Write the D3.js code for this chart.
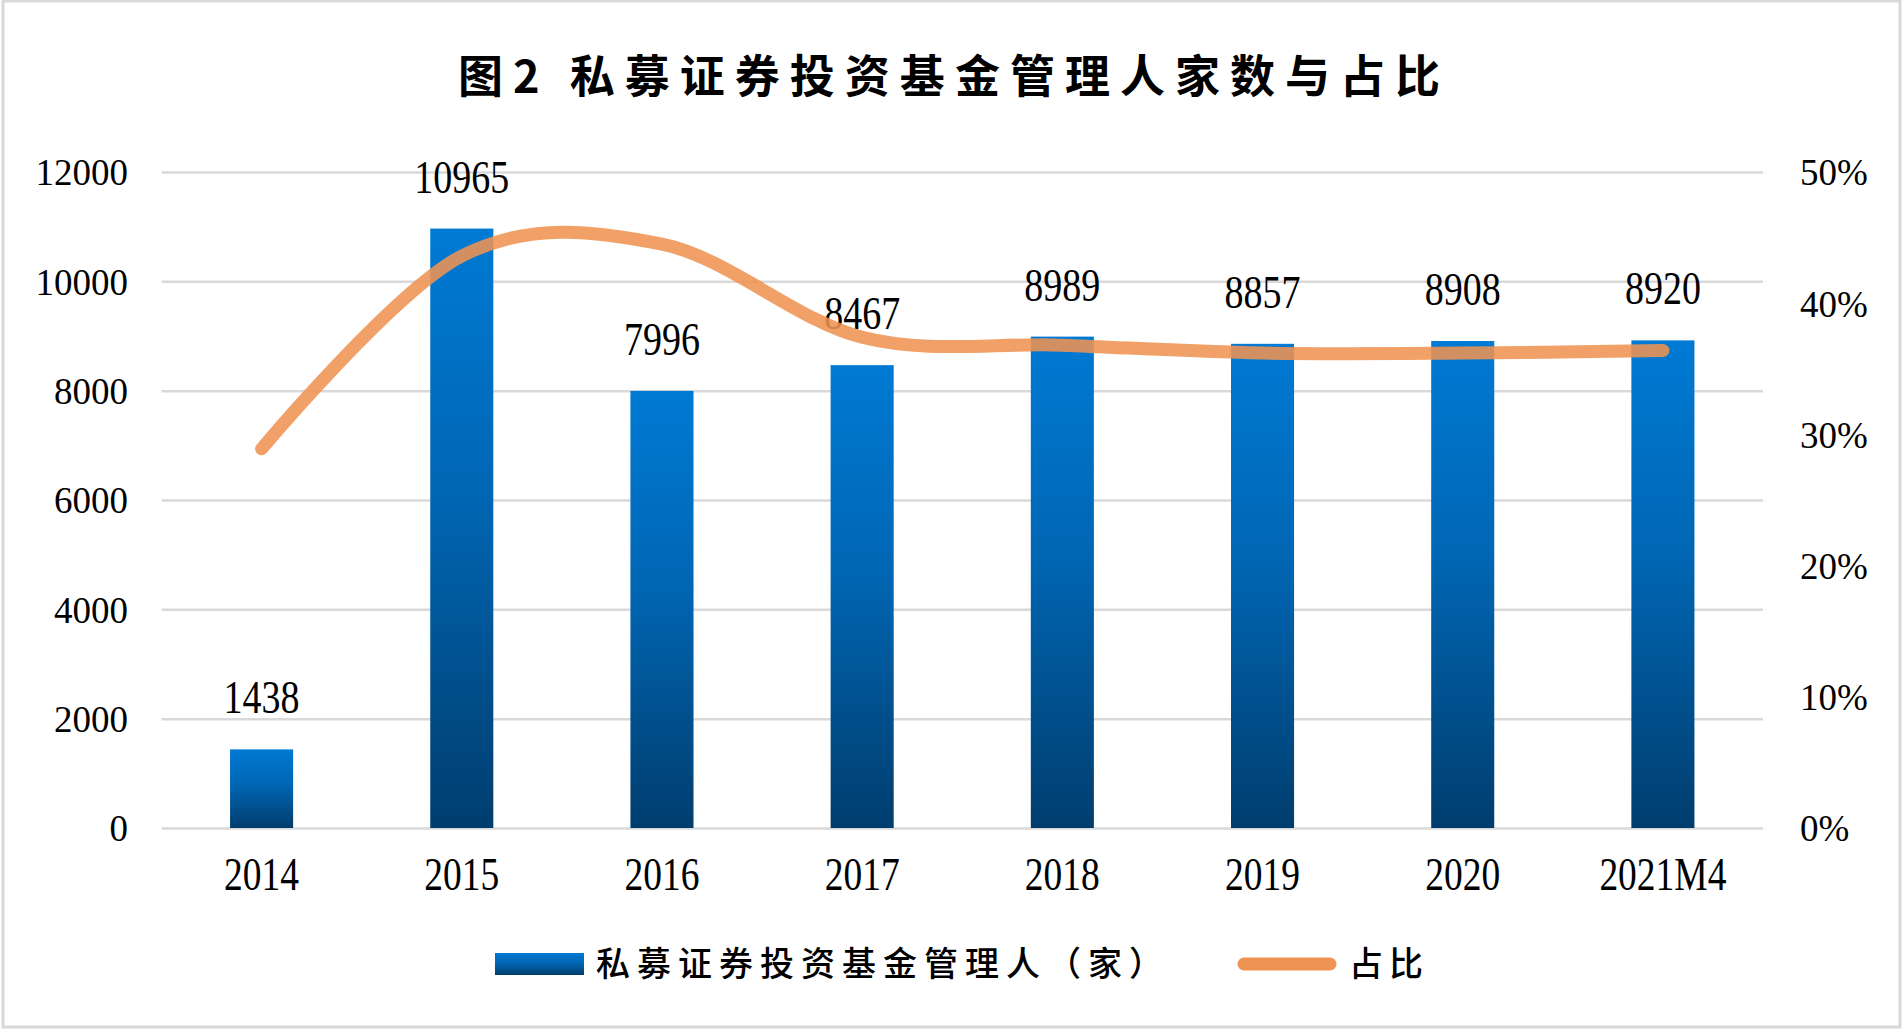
<!DOCTYPE html>
<html>
<head>
<meta charset="utf-8">
<script src="https://cdn.jsdelivr.net/npm/d3@7"></script>
<style>
  html, body { margin: 0; padding: 0; background: #ffffff; }
  svg { display: block; }
</style>
</head>
<body>
<svg id="chart" width="1904" height="1031"></svg>
<script>
// ---- data ----
const title = "图2 私募证券投资基金管理人家数与占比";
const categories = ["2014", "2015", "2016", "2017", "2018", "2019", "2020", "2021M4"];
const managers = [1438, 10965, 7996, 8467, 8989, 8857, 8908, 8920];
const shares = [0.289, 0.436, 0.445, 0.374, 0.368, 0.362, 0.362, 0.364];
const leftTicks = [0, 2000, 4000, 6000, 8000, 10000, 12000];
const rightTicks = [0, 0.1, 0.2, 0.3, 0.4, 0.5];
const barName = "私募证券投资基金管理人（家）";
const lineName = "占比";

// ---- layout ----
const W = 1904, H = 1031;
const plot = { left: 161.5, right: 1763, top: 172, bottom: 828 };
const svg = d3.select("#chart");

// frame
svg.append("rect").attr("x", 3).attr("y", 1).attr("width", W - 7).attr("height", H - 5)
  .attr("fill", "#fff").attr("stroke", "#d9d9d9").attr("stroke-width", 3);

const defs = svg.append("defs");
const grad = defs.append("linearGradient").attr("id", "barGrad")
  .attr("x1", 0).attr("y1", 0).attr("x2", 0).attr("y2", 1);
grad.append("stop").attr("offset", "0%").attr("stop-color", "#007ad4");
grad.append("stop").attr("offset", "45%").attr("stop-color", "#0066b3");
grad.append("stop").attr("offset", "100%").attr("stop-color", "#003d6e");

const x = d3.scaleBand().domain(categories).range([plot.left, plot.right]).padding(0);
const yL = d3.scaleLinear().domain([0, 12000]).range([plot.bottom, plot.top]);
const yR = d3.scaleLinear().domain([0, 0.5]).range([plot.bottom, plot.top]);
const barW = x.bandwidth() * 0.315;

// title
svg.append("text").attr("x", W / 2 + 2).attr("y", 93)
  .attr("text-anchor", "middle")
  .attr("font-family", "'Noto Sans CJK SC', sans-serif")
  .attr("font-weight", 700).attr("font-size", 45)
  .attr("letter-spacing", 10)
  .attr("fill", "#000").text(title);

// gridlines
const grid = svg.append("g").attr("transform", `translate(${plot.left},0)`)
  .call(d3.axisLeft(yL).tickValues(leftTicks).tickSize(-(plot.right - plot.left)).tickFormat(""));
grid.select(".domain").remove();
grid.selectAll("line").attr("stroke", "#d9d9d9").attr("stroke-width", 2.5);

// left axis
const axL = svg.append("g").attr("transform", `translate(128,0)`)
  .call(d3.axisLeft(yL).tickValues(leftTicks).tickSize(0).tickPadding(0).tickFormat(d3.format("d")));
axL.select(".domain").remove();
axL.selectAll("text").attr("font-family", "'Liberation Serif', serif").attr("font-size", 37)
  .attr("fill", "#000").attr("dy", "0.35em");

// right axis
const axR = svg.append("g").attr("transform", `translate(1800,0)`)
  .call(d3.axisRight(yR).tickValues(rightTicks).tickSize(0).tickPadding(0).tickFormat(d3.format(".0%")));
axR.select(".domain").remove();
axR.selectAll("text").attr("font-family", "'Liberation Serif', serif").attr("font-size", 37)
  .attr("fill", "#000").attr("dy", "0.35em");

// bars
svg.append("g").selectAll("rect").data(managers).join("rect")
  .attr("x", (d, i) => x(categories[i]) + x.bandwidth() / 2 - barW / 2)
  .attr("y", d => yL(d))
  .attr("width", barW)
  .attr("height", d => yL(0) - yL(d))
  .attr("fill", "url(#barGrad)");

// data labels
svg.append("g").selectAll("text").data(managers).join("text")
  .attr("transform", (d, i) => `translate(${x(categories[i]) + x.bandwidth() / 2},${yL(d) - 36}) scale(1,1.2)`)
  .attr("text-anchor", "middle")
  .attr("font-family", "'Liberation Serif', serif").attr("font-size", 38)
  .attr("fill", "#000").text(d => d);

// category labels
svg.append("g").selectAll("text").data(categories).join("text")
  .attr("transform", d => `translate(${x(d) + x.bandwidth() / 2},890) scale(1,1.22)`)
  .attr("text-anchor", "middle")
  .attr("font-family", "'Liberation Serif', serif").attr("font-size", 37.5)
  .attr("fill", "#000").text(d => d);

// line
const line = d3.line()
  .x((d, i) => x(categories[i]) + x.bandwidth() / 2)
  .y(d => yR(d))
  .curve(d3.curveCardinal.tension(0));
svg.append("path").datum(shares)
  .attr("d", line).attr("fill", "none")
  .attr("stroke", "#ef9352").attr("stroke-width", 13)
  .attr("stroke-linecap", "round").attr("stroke-linejoin", "round")
  .attr("stroke-opacity", 0.88);

// legend
const lg = svg.append("g");
lg.append("rect").attr("x", 495).attr("y", 953).attr("width", 89).attr("height", 22)
  .attr("fill", "url(#barGrad)");
lg.append("text").attr("x", 596).attr("y", 976)
  .attr("font-family", "'Noto Sans CJK SC', sans-serif").attr("font-weight", 500)
  .attr("font-size", 34).attr("letter-spacing", 7).attr("fill", "#000").text(barName);
lg.append("line").attr("x1", 1244).attr("x2", 1330).attr("y1", 964).attr("y2", 964)
  .attr("stroke", "#ef9352").attr("stroke-width", 13).attr("stroke-linecap", "round");
lg.append("text").attr("x", 1349).attr("y", 976)
  .attr("font-family", "'Noto Sans CJK SC', sans-serif").attr("font-weight", 500)
  .attr("font-size", 34).attr("letter-spacing", 6).attr("fill", "#000").text(lineName);
</script>
</body>
</html>
